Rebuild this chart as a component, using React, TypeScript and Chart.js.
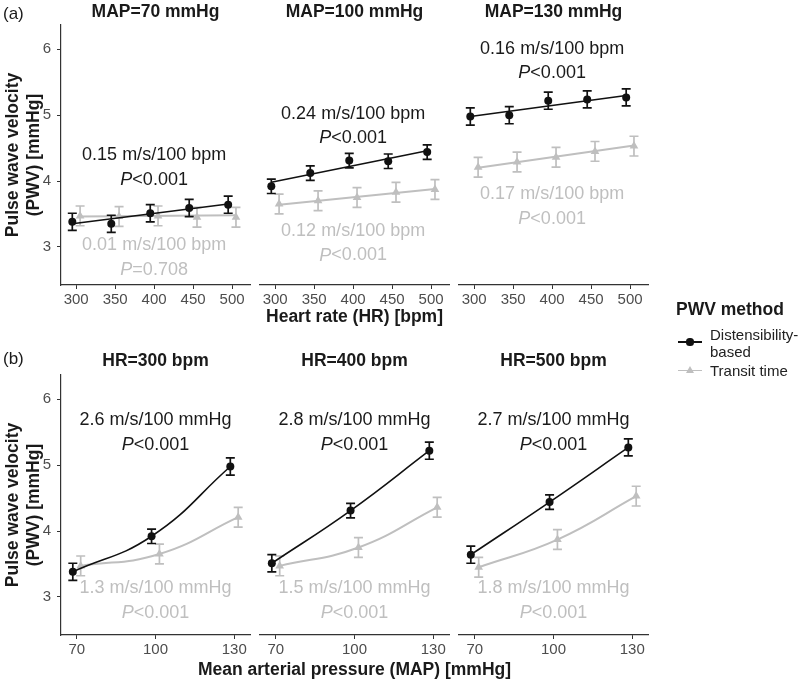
import React, { useEffect, useRef } from "react";
import { Chart, registerables } from "chart.js";

Chart.register(...registerables);

// ---------- data ----------
const HR = [300, 350, 400, 450, 500];
const MAP = [70, 100, 130];
const HR_TICKS = [300, 350, 400, 450, 500];
const MAP_TICKS = [70, 100, 130];
const PWV_TICKS = [3, 4, 5, 6];
const HR_PANELS_IDX = [0, 2, 4]; // HR=300, 400, 500 used in panel (b)

// Distensibility-based PWV, mean per HR (one array per MAP level)
const DIST_MAP70 = [3.38, 3.35, 3.51, 3.59, 3.64];
const DIST_MAP100 = [3.92, 4.12, 4.31, 4.3, 4.44];
const DIST_MAP130 = [4.98, 5.0, 5.22, 5.24, 5.27];
// Transit-time PWV
const TT_MAP70 = [3.47, 3.46, 3.47, 3.45, 3.45];
const TT_MAP100 = [3.65, 3.7, 3.75, 3.83, 3.87];
const TT_MAP130 = [4.21, 4.29, 4.36, 4.45, 4.53];
// error half-widths per MAP level
const DIST_ERR = [0.13, 0.11, 0.13];
const TT_ERR = [0.15, 0.15, 0.15];

// regression line ends (HR = 300 -> 500) per MAP level
const DIST_FIT_HR = [
  [3.35, 3.65],
  [3.98, 4.46],
  [4.98, 5.3],
];
const TT_FIT_HR = [
  [3.46, 3.48],
  [3.64, 3.88],
  [4.2, 4.54],
];

// annotations
const HR_TITLES = ["MAP=70 mmHg", "MAP=100 mmHg", "MAP=130 mmHg"];
const MAP_TITLES = ["HR=300 bpm", "HR=400 bpm", "HR=500 bpm"];
const SLOPE_HR_DIST = ["0.15 m/s/100 bpm", "0.24 m/s/100 bpm", "0.16 m/s/100 bpm"];
const P_HR_DIST = ["<0.001", "<0.001", "<0.001"];
const SLOPE_HR_TT = ["0.01 m/s/100 bpm", "0.12 m/s/100 bpm", "0.17 m/s/100 bpm"];
const P_HR_TT = ["=0.708", "<0.001", "<0.001"];
const SLOPE_MAP_DIST = ["2.6 m/s/100 mmHg", "2.8 m/s/100 mmHg", "2.7 m/s/100 mmHg"];
const P_MAP_DIST = ["<0.001", "<0.001", "<0.001"];
const SLOPE_MAP_TT = ["1.3 m/s/100 mmHg", "1.5 m/s/100 mmHg", "1.8 m/s/100 mmHg"];
const P_MAP_TT = ["<0.001", "<0.001", "<0.001"];
const LABEL_Y_HR_DIST = [4.39, 5.02, 6.01];
const LABEL_Y_HR_TT = [3.02, 3.24, 3.8];
const LABEL_Y_MAP_DIST = [5.68, 5.68, 5.68];
const LABEL_Y_MAP_TT = [3.13, 3.13, 3.13];
const LABEL_X_HR = 400;
const LABEL_X_MAP = 100;

// ---------- style / layout ----------
const FONT = '"Liberation Sans", Arial, Helvetica, sans-serif';
const BLACK = "#111111";
const GREY = "#bfbfbf";
const W = 800;
const H = 681;
const COLS = [61, 260, 459];
const ROWS = [25, 375];
const PW = 189;
const PH = 260;
const XH = 22;
const YW = 30;
const DODGE_HR = 5;
const DODGE_MAP = 1.5;
const CAP = 4.5;
const LINE_GAP = 24.5;

const DIST_BY_MAP = [DIST_MAP70, DIST_MAP100, DIST_MAP130];
const TT_BY_MAP = [TT_MAP70, TT_MAP100, TT_MAP130];

const errorBarPlugin = {
  id: "errbars",
  beforeDatasetDraw(chart: any, args: any) {
    const ds = chart.data.datasets[args.index];
    if (!ds.errors) return;
    const { ctx } = chart;
    const xs = chart.scales.x;
    const ys = chart.scales.y;
    ctx.save();
    ctx.strokeStyle = ds.errColor;
    ctx.lineWidth = 1.7;
    ds.data.forEach((pt: any, i: number) => {
      const px = xs.getPixelForValue(pt.x);
      const y1 = ys.getPixelForValue(pt.y - ds.errors[i]);
      const y2 = ys.getPixelForValue(pt.y + ds.errors[i]);
      ctx.beginPath();
      ctx.moveTo(px, y1);
      ctx.lineTo(px, y2);
      ctx.moveTo(px - CAP, y1);
      ctx.lineTo(px + CAP, y1);
      ctx.moveTo(px - CAP, y2);
      ctx.lineTo(px + CAP, y2);
      ctx.stroke();
    });
    ctx.restore();
  },
};

type Annot = { x: number; y: number; text: string; p: string; color: string };

function makeAnnotPlugin(items: Annot[]) {
  return {
    id: "annot",
    afterDatasetsDraw(chart: any) {
      const { ctx } = chart;
      const xs = chart.scales.x;
      const ys = chart.scales.y;
      items.forEach((it) => {
        const px = xs.getPixelForValue(it.x);
        const py = ys.getPixelForValue(it.y);
        ctx.save();
        ctx.fillStyle = it.color;
        ctx.textBaseline = "middle";
        const normal = `18px ${FONT}`;
        const italic = `italic 18px ${FONT}`;
        ctx.font = normal;
        ctx.textAlign = "center";
        ctx.fillText(it.text, px, py);
        ctx.font = italic;
        const wP = ctx.measureText("P").width;
        ctx.font = normal;
        const wR = ctx.measureText(it.p).width;
        const start = px - (wP + wR) / 2;
        ctx.textAlign = "left";
        ctx.font = italic;
        ctx.fillText("P", start, py + LINE_GAP);
        ctx.font = normal;
        ctx.fillText(it.p, start + wP, py + LINE_GAP);
        ctx.restore();
      });
    },
  };
}

function buildPanel(row: number, col: number) {
  const left = COLS[col];
  const top = ROWS[row];
  let datasets: any[] = [];
  let annots: Annot[] = [];
  let xMin: number, xMax: number, xTicks: number[];
  if (row === 0) {
    xMin = 280.5;
    xMax = 523;
    xTicks = HR_TICKS;
    const dPts = HR.map((h, i) => ({ x: h - DODGE_HR, y: DIST_BY_MAP[col][i] }));
    const tPts = HR.map((h, i) => ({ x: h + DODGE_HR, y: TT_BY_MAP[col][i] }));
    datasets = [
      {
        data: dPts,
        errors: HR.map(() => DIST_ERR[col]),
        errColor: BLACK,
        showLine: false,
        pointStyle: "circle",
        pointRadius: 4,
        pointBackgroundColor: BLACK,
        pointBorderWidth: 0,
      },
      {
        data: [
          { x: HR[0] - DODGE_HR, y: DIST_FIT_HR[col][0] },
          { x: HR[HR.length - 1] - DODGE_HR, y: DIST_FIT_HR[col][1] },
        ],
        showLine: true,
        borderColor: BLACK,
        borderWidth: 1.6,
        pointRadius: 0,
      },
      {
        data: tPts,
        errors: HR.map(() => TT_ERR[col]),
        errColor: GREY,
        showLine: false,
        pointStyle: "triangle",
        pointRadius: 5,
        pointBackgroundColor: GREY,
        pointBorderWidth: 0,
      },
      {
        data: [
          { x: HR[0] + DODGE_HR, y: TT_FIT_HR[col][0] },
          { x: HR[HR.length - 1] + DODGE_HR, y: TT_FIT_HR[col][1] },
        ],
        showLine: true,
        borderColor: GREY,
        borderWidth: 2,
        pointRadius: 0,
      },
    ];
    annots = [
      { x: LABEL_X_HR, y: LABEL_Y_HR_DIST[col], text: SLOPE_HR_DIST[col], p: P_HR_DIST[col], color: "#1a1a1a" },
      { x: LABEL_X_HR, y: LABEL_Y_HR_TT[col], text: SLOPE_HR_TT[col], p: P_HR_TT[col], color: GREY },
    ];
  } else {
    xMin = 64;
    xMax = 136;
    xTicks = MAP_TICKS;
    const hi = HR_PANELS_IDX[col];
    const dPts = MAP.map((m, k) => ({ x: m - DODGE_MAP, y: DIST_BY_MAP[k][hi] }));
    const tPts = MAP.map((m, k) => ({ x: m + DODGE_MAP, y: TT_BY_MAP[k][hi] }));
    datasets = [
      {
        data: dPts,
        errors: MAP.map((_, k) => DIST_ERR[k]),
        errColor: BLACK,
        showLine: false,
        pointStyle: "circle",
        pointRadius: 4,
        pointBackgroundColor: BLACK,
        pointBorderWidth: 0,
      },
      {
        data: dPts,
        showLine: true,
        tension: 0.45,
        borderColor: BLACK,
        borderWidth: 1.6,
        pointRadius: 0,
      },
      {
        data: tPts,
        errors: MAP.map((_, k) => TT_ERR[k]),
        errColor: GREY,
        showLine: false,
        pointStyle: "triangle",
        pointRadius: 5,
        pointBackgroundColor: GREY,
        pointBorderWidth: 0,
      },
      {
        data: tPts,
        showLine: true,
        tension: 0.45,
        borderColor: GREY,
        borderWidth: 2,
        pointRadius: 0,
      },
    ];
    annots = [
      { x: LABEL_X_MAP, y: LABEL_Y_MAP_DIST[col], text: SLOPE_MAP_DIST[col], p: P_MAP_DIST[col], color: "#1a1a1a" },
      { x: LABEL_X_MAP, y: LABEL_Y_MAP_TT[col], text: SLOPE_MAP_TT[col], p: P_MAP_TT[col], color: GREY },
    ];
  }

  const showY = col === 0;
  return {
    type: "scatter" as const,
    data: { datasets },
    options: {
      animation: false,
      responsive: false,
      maintainAspectRatio: false,
      devicePixelRatio: 1,
      layout: {
        padding: {
          left: showY ? left - YW : left,
          top: top,
          right: W - left - PW,
          bottom: H - top - PH - XH,
        },
      },
      plugins: {
        legend: { display: false },
        tooltip: { enabled: false },
      },
      scales: {
        x: {
          type: "linear",
          min: xMin,
          max: xMax,
          afterBuildTicks: (s: any) => {
            s.ticks = xTicks.map((v) => ({ value: v }));
          },
          afterFit: (s: any) => {
            s.height = XH;
          },
          grid: { display: true, drawOnChartArea: false, drawTicks: true, tickLength: 4, color: "#333", lineWidth: 1 },
          border: { display: true, color: "#333", width: 1.2 },
          ticks: {
            color: "#4d4d4d",
            font: { family: FONT, size: 15 },
            padding: 2,
            maxRotation: 0,
            autoSkip: false,
            callback: (v: any) => String(v),
          },
        },
        y: {
          type: "linear",
          display: showY,
          min: 2.42,
          max: 6.37,
          afterBuildTicks: (s: any) => {
            s.ticks = PWV_TICKS.map((v) => ({ value: v }));
          },
          afterFit: (s: any) => {
            if (showY) s.width = YW;
          },
          grid: { display: true, drawOnChartArea: false, drawTicks: true, tickLength: 4, color: "#333", lineWidth: 1 },
          border: { display: showY, color: "#333", width: 1.2 },
          ticks: {
            color: "#4d4d4d",
            font: { family: FONT, size: 15 },
            padding: 6,
            callback: (v: any) => String(v),
          },
        },
      },
    },
    plugins: [errorBarPlugin, makeAnnotPlugin(annots)],
  };
}

const PANELS = [
  [0, 0],
  [0, 1],
  [0, 2],
  [1, 0],
  [1, 1],
  [1, 2],
];

const centered = (x: number, y: number, extra: React.CSSProperties = {}): React.CSSProperties => ({
  position: "absolute",
  left: x,
  top: y,
  transform: "translate(-50%, -50%)",
  whiteSpace: "nowrap",
  lineHeight: 1,
  ...extra,
});

const leftMid = (x: number, y: number, extra: React.CSSProperties = {}): React.CSSProperties => ({
  position: "absolute",
  left: x,
  top: y,
  transform: "translateY(-50%)",
  whiteSpace: "nowrap",
  lineHeight: 1,
  ...extra,
});

export default function App() {
  const refs = useRef<(HTMLCanvasElement | null)[]>([]);

  useEffect(() => {
    const charts = PANELS.map(([r, c], i) => new Chart(refs.current[i] as HTMLCanvasElement, buildPanel(r, c) as any));
    return () => charts.forEach((ch) => ch.destroy());
  }, []);

  const title: React.CSSProperties = { fontWeight: "bold", fontSize: 17.5, color: "#1a1a1a" };

  return (
    <div
      style={{
        position: "absolute",
        left: 0,
        top: 0,
        width: W,
        height: H,
        background: "#fff",
        fontFamily: FONT,
        overflow: "hidden",
      }}
    >
      {PANELS.map((_, i) => (
        <canvas
          key={i}
          ref={(el) => {
            refs.current[i] = el;
          }}
          width={W}
          height={H}
          style={{ position: "absolute", left: 0, top: 0, width: W, height: H }}
        />
      ))}

      <div style={leftMid(3, 13, { fontSize: 17, color: "#1a1a1a" })}>(a)</div>
      <div style={leftMid(3, 358, { fontSize: 17, color: "#1a1a1a" })}>(b)</div>

      {HR_TITLES.map((t, i) => (
        <div key={"ht" + i} style={centered(COLS[i] + PW / 2, 12, title)}>
          {t}
        </div>
      ))}
      {MAP_TITLES.map((t, i) => (
        <div key={"mt" + i} style={centered(COLS[i] + PW / 2, 361, title)}>
          {t}
        </div>
      ))}

      {ROWS.map((top, i) => (
        <div
          key={"yt" + i}
          style={{
            position: "absolute",
            left: 23,
            top: top + PH / 2,
            transform: "translate(-50%, -50%) rotate(-90deg)",
            whiteSpace: "nowrap",
            textAlign: "center",
            lineHeight: "21px",
            ...title,
          }}
        >
          Pulse wave velocity
          <br />
          (PWV) [mmHg]
        </div>
      ))}

      <div style={centered(COLS[1] + PW / 2, 316.5, title)}>Heart rate (HR) [bpm]</div>
      <div style={centered(COLS[1] + PW / 2, 670, title)}>Mean arterial pressure (MAP) [mmHg]</div>

      {/* legend */}
      <div style={leftMid(676, 310, title)}>PWV method</div>
      <div style={{ position: "absolute", left: 678, top: 341, width: 24, height: 1.8, background: BLACK }} />
      <div
        style={{
          position: "absolute",
          left: 690 - 3.6,
          top: 342 - 3.6,
          width: 7.2,
          height: 7.2,
          borderRadius: "50%",
          background: BLACK,
        }}
      />
      <div style={{ position: "absolute", left: 710, top: 326, fontSize: 15, lineHeight: "17px", color: "#222" }}>
        Distensibility-
        <br />
        based
      </div>
      <div style={{ position: "absolute", left: 678, top: 369.5, width: 24, height: 1.8, background: GREY }} />
      <div
        style={{
          position: "absolute",
          left: 690 - 4,
          top: 366,
          width: 0,
          height: 0,
          borderLeft: "4px solid transparent",
          borderRight: "4px solid transparent",
          borderBottom: `7px solid ${GREY}`,
        }}
      />
      <div style={leftMid(710, 370, { fontSize: 15, color: "#222" })}>Transit time</div>
    </div>
  );
}
